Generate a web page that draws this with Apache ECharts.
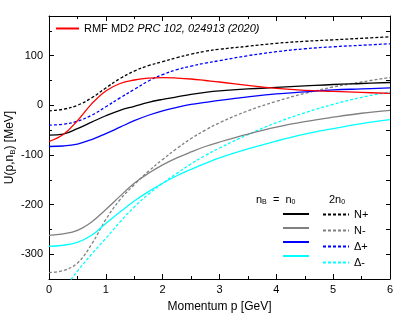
<!DOCTYPE html>
<html>
<head>
<meta charset="utf-8">
<script src="https://cdn.jsdelivr.net/npm/echarts@6/dist/echarts.min.js"></script>
<style>
html, body { margin: 0; padding: 0; background: #fff; }
#main { width: 415px; height: 321px; }
</style>
</head>
<body>
<div id="main"></div>
<script>
// momentum grid (GeV)
const momentum = [0, 0.25, 0.5, 0.75, 1, 1.25, 1.5, 1.75, 2, 2.25, 2.5, 2.75, 3, 3.5, 4, 4.5, 5, 5.5, 6];
// potentials U(p, nB) in MeV
const rmf    = [-73, -59, -31, 3, 29, 44, 51, 55, 56, 55, 53, 50, 47, 40, 34, 30, 28, 26, 24];
const nPlus1 = [-60, -58, -47, -34, -21, -10, -2, 6, 12, 17, 22, 26, 29, 33, 36, 39, 42, 44, 46];
const nPlus2 = [-11, -8, 0, 15, 35, 54, 69, 80, 88, 96, 103, 109, 113, 119, 125, 129, 132, 135, 138];
const nMin1  = [-262, -259, -252, -235, -210, -183, -157, -137, -120, -106, -94, -83, -74, -58, -44, -33, -24, -16, -10];
const nMin2  = [-337, -333, -318, -280, -230, -190, -160, -133, -109, -87, -67, -50, -35, -11, 8, 24, 37, 47, 56];
const dPlus1 = [-83, -82, -78, -69, -57, -44, -31, -20, -11, -4, 2, 6, 10, 17, 23, 27, 31, 33, 35];
const dPlus2 = [-40, -38, -32, -20, -3, 15, 32, 49, 62, 72, 79, 85, 90, 100, 108, 114, 118, 121, 124];
const dMin1  = [-284, -282, -276, -262, -238, -215, -193, -174, -157, -142, -129, -117, -106, -88, -72, -58, -47, -37, -29];
const dMin2  = [-392, -370, -334, -300, -268, -235, -205, -179, -157, -137, -118, -101, -86, -59, -35, -15, 2, 16, 27];

const denseNames = ['N+ 2n0', 'N- 2n0', 'D+ 2n0', 'D- 2n0'];
const labelNames = ['N+', 'N-', '\u0394+', '\u0394-'];
const font = 'Liberation Sans, Arial, sans-serif';

function line(name, vals, color, dashed) {
  return {
    type: 'line',
    name: name,
    data: momentum.map((p, i) => [p, vals[i]]),
    smooth: 0.4,
    symbol: 'none',
    clip: true,
    z: dashed ? 2 : 3,
    lineStyle: { color: color, width: 1.3, type: dashed ? [3, 2] : 'solid' },
    itemStyle: { color: color }
  };
}

const series = [
  line('N+ n0', nPlus1, '#000000', false),
  line('N- n0', nMin1, '#808080', false),
  line('D+ n0', dPlus1, '#0000ff', false),
  line('D- n0', dMin1, '#00ffff', false),
  line('N+ 2n0', nPlus2, '#000000', true),
  line('N- 2n0', nMin2, '#808080', true),
  line('D+ 2n0', dPlus2, '#0000ff', true),
  line('D- 2n0', dMin2, '#00ffff', true),
  line('RMF', rmf, '#ff0000', false)
];
series[8].z = 4;

const chart = echarts.init(document.getElementById('main'));
chart.setOption({
  backgroundColor: '#fff',
  animation: false,
  textStyle: { fontFamily: font },
  grid: { left: 49, right: 25, top: 16, bottom: 42, outerBoundsMode: 'none', containLabel: false },
  xAxis: [{
    type: 'value', min: 0, max: 6, interval: 1, position: 'bottom',
    name: 'Momentum p [GeV]', nameLocation: 'middle', nameGap: 22,
    nameTextStyle: { fontSize: 12, color: '#000', fontFamily: font },
    axisLine: { onZero: false, lineStyle: { color: '#000', width: 1 } },
    axisTick: { inside: true, length: 5, lineStyle: { color: '#000' } },
    minorTick: { show: true, splitNumber: 2, length: 3, lineStyle: { color: '#000' } },
    axisLabel: { fontSize: 11, color: '#000', margin: 5, fontFamily: font },
    splitLine: { show: false }
  }, {
    type: 'value', min: 0, max: 6, interval: 1, position: 'top',
    axisLine: { onZero: false, lineStyle: { color: '#000', width: 1 } },
    axisTick: { inside: true, length: 5, lineStyle: { color: '#000' } },
    minorTick: { show: true, splitNumber: 2, length: 3, lineStyle: { color: '#000' } },
    axisLabel: { show: false },
    splitLine: { show: false }
  }],
  yAxis: [{
    type: 'value', min: -350, max: 180, interval: 50, position: 'left',
    name: '{a|U(p,n}{s|B}{a|) [MeV]}', nameLocation: 'middle', nameGap: 32, nameRotate: 90,
    nameMoveOverlap: false,
    nameTextStyle: {
      color: '#000', fontFamily: font,
      rich: {
        a: { fontSize: 12, color: '#000', fontFamily: font },
        s: { fontSize: 8, color: '#000', fontFamily: font, verticalAlign: 'bottom', padding: [6, 0, 0, 0] }
      }
    },
    axisLine: { onZero: false, lineStyle: { color: '#000', width: 1 } },
    axisTick: { inside: true, length: 3, lineStyle: { color: '#000' } },
    axisLabel: {
      fontSize: 11, color: '#000', margin: 6, fontFamily: font,
      formatter: v => (v % 100 === 0 ? String(v) : '')
    },
    splitLine: { show: false }
  }, {
    type: 'value', min: -350, max: 180, position: 'left',
    axisLine: { show: false, onZero: false },
    axisTick: { inside: true, length: 5, customValues: [-300, -200, -100, 0, 100], lineStyle: { color: '#000' } },
    axisLabel: { show: false },
    splitLine: { show: false }
  }, {
    type: 'value', min: -350, max: 180, interval: 50, position: 'right',
    axisLine: { onZero: false, lineStyle: { color: '#000', width: 1 } },
    axisTick: { inside: true, length: 4, lineStyle: { color: '#000' } },
    axisLabel: { show: false },
    splitLine: { show: false }
  }],
  legend: [{
    data: ['RMF'],
    left: 55, top: 23, padding: 0,
    itemWidth: 23, itemHeight: 10, itemGap: 4,
    itemStyle: { opacity: 0 },
    formatter: () => '{a|RMF MD2 }{b|PRC 102, 024913 (2020)}',
    textStyle: {
      rich: {
        a: { fontSize: 11, color: '#000', fontFamily: font },
        b: { fontSize: 11, color: '#000', fontFamily: font, fontStyle: 'italic' }
      }
    }
  }, {
    data: ['N+ n0', 'N- n0', 'D+ n0', 'D- n0'],
    orient: 'vertical', left: 282, top: 209, padding: 0,
    itemWidth: 26, itemHeight: 10, itemGap: 5,
    itemStyle: { opacity: 0 },
    formatter: () => '',
    textStyle: { fontSize: 11 }
  }, {
    data: denseNames,
    orient: 'vertical', left: 322, top: 209, padding: 0,
    itemWidth: 26, itemHeight: 10, itemGap: 5,
    itemStyle: { opacity: 0 },
    formatter: name => labelNames[denseNames.indexOf(name)],
    textStyle: { fontSize: 11, color: '#000', fontFamily: font }
  }],
  graphic: [{
    type: 'text', left: 256, top: 194,
    style: {
      text: '{a|n}{s|B}{a|  =  n}{s|0}',
      rich: {
        a: { fontSize: 11, fill: '#000', fontFamily: font },
        s: { fontSize: 7, fill: '#000', fontFamily: font, padding: [6, 0, 0, 0] }
      }
    }
  }, {
    type: 'text', left: 329, top: 194,
    style: {
      text: '{a|2n}{s|0}',
      rich: {
        a: { fontSize: 11, fill: '#000', fontFamily: font },
        s: { fontSize: 7, fill: '#000', fontFamily: font, padding: [6, 0, 0, 0] }
      }
    }
  }],
  series: series.map(s => Object.assign(s, { xAxisIndex: 0, yAxisIndex: 0 }))
});
</script>
</body>
</html>
